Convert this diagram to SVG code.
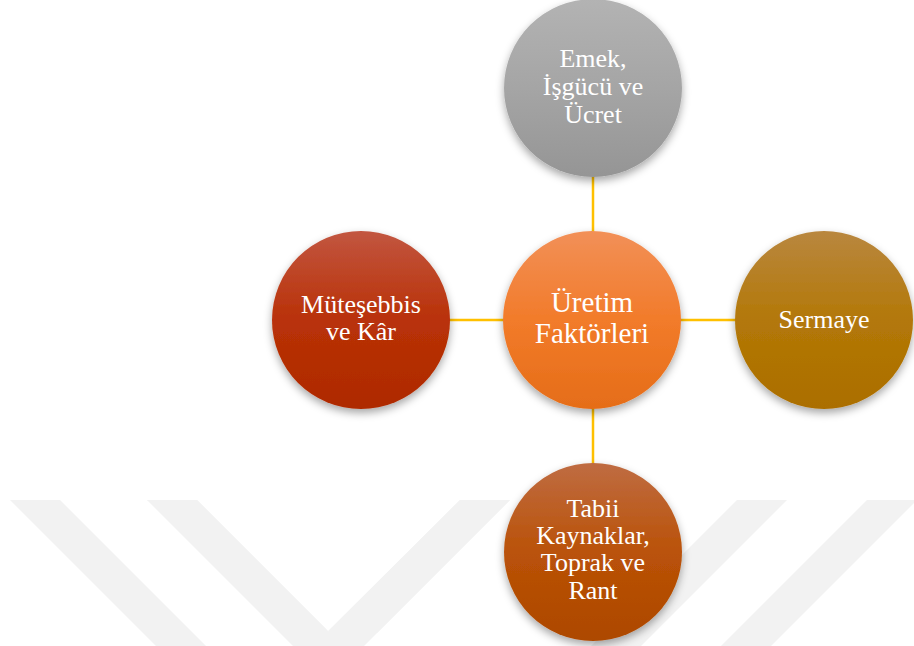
<svg xmlns="http://www.w3.org/2000/svg" width="914" height="646" viewBox="0 0 914 646">
<defs>
<style>
text{font-family:"Liberation Serif","Times New Roman",serif;font-size:26px;fill:#ffffff;text-anchor:middle}
.tc{font-size:29px}
.wm{fill:#f2f2f2}
.conn{stroke:#FFC000;stroke-width:2.5;fill:none}
</style>
<filter id="sh" x="-20%" y="-20%" width="140%" height="150%">
<feDropShadow dx="0" dy="4" stdDeviation="4" flood-color="#000" flood-opacity="0.35"/>
</filter>
<linearGradient id="gGray" x1="0" y1="0" x2="0" y2="1"><stop offset="0" stop-color="#b3b3b3"/><stop offset="0.5" stop-color="#a5a5a5"/><stop offset="1" stop-color="#959595"/></linearGradient>
<linearGradient id="gRed" x1="0" y1="0" x2="0" y2="1"><stop offset="0" stop-color="#c25640"/><stop offset="0.5" stop-color="#b93108"/><stop offset="1" stop-color="#ae2a00"/></linearGradient>
<linearGradient id="gOr" x1="0" y1="0" x2="0" y2="1"><stop offset="0" stop-color="#f29058"/><stop offset="0.5" stop-color="#f27b2a"/><stop offset="1" stop-color="#e56d18"/></linearGradient>
<linearGradient id="gGold" x1="0" y1="0" x2="0" y2="1"><stop offset="0" stop-color="#b9873f"/><stop offset="0.5" stop-color="#b37808"/><stop offset="1" stop-color="#ab6e00"/></linearGradient>
<linearGradient id="gBr" x1="0" y1="0" x2="0" y2="1"><stop offset="0" stop-color="#bf6c42"/><stop offset="0.5" stop-color="#ba5208"/><stop offset="1" stop-color="#ad4800"/></linearGradient>
</defs>
<rect width="914" height="646" fill="#ffffff"/>
<g id="watermark">
<polygon class="wm" points="10,500 60,500 206,646 156,646"/>
<polygon class="wm" points="147,500 197,500 330,633 377,633 510,500 460,500 328,631"/>
<polygon class="wm" points="147,500 197,500 343,646 293,646"/>
<polygon class="wm" points="460,500 510,500 364,646 314,646"/>
<polygon class="wm" points="737,500 787,500 641,646 591,646"/>
<polygon class="wm" points="867,500 914,500 914,503 771,646 721,646"/>
</g>
<g id="connectors">
<line class="conn" x1="593" y1="176" x2="593" y2="233"/>
<line class="conn" x1="593" y1="408" x2="593" y2="465"/>
<line class="conn" x1="449" y1="320" x2="504" y2="320"/>
<line class="conn" x1="680" y1="320" x2="736" y2="320"/>
</g>
<g id="top">
<circle cx="593" cy="88" r="89" fill="url(#gGray)" filter="url(#sh)"/>
<text x="593" y="67">Emek,</text>
<text x="593" y="95">İşgücü ve</text>
<text x="593" y="123">Ücret</text>
</g>
<g id="left">
<circle cx="361" cy="320" r="89" fill="url(#gRed)" filter="url(#sh)"/>
<text x="361" y="313">Müteşebbis</text>
<text x="361" y="340">ve Kâr</text>
</g>
<g id="center">
<circle cx="592" cy="320" r="89" fill="url(#gOr)" filter="url(#sh)"/>
<text class="tc" x="592" y="312">Üretim</text>
<text class="tc" x="592" y="343">Faktörleri</text>
</g>
<g id="right">
<circle cx="824" cy="320" r="89" fill="url(#gGold)" filter="url(#sh)"/>
<text x="824" y="328">Sermaye</text>
</g>
<g id="bottom">
<circle cx="593" cy="552" r="89" fill="url(#gBr)" filter="url(#sh)"/>
<text x="593" y="517">Tabii</text>
<text x="593" y="544">Kaynaklar,</text>
<text x="593" y="571">Toprak ve</text>
<text x="593" y="599">Rant</text>
</g>
</svg>
